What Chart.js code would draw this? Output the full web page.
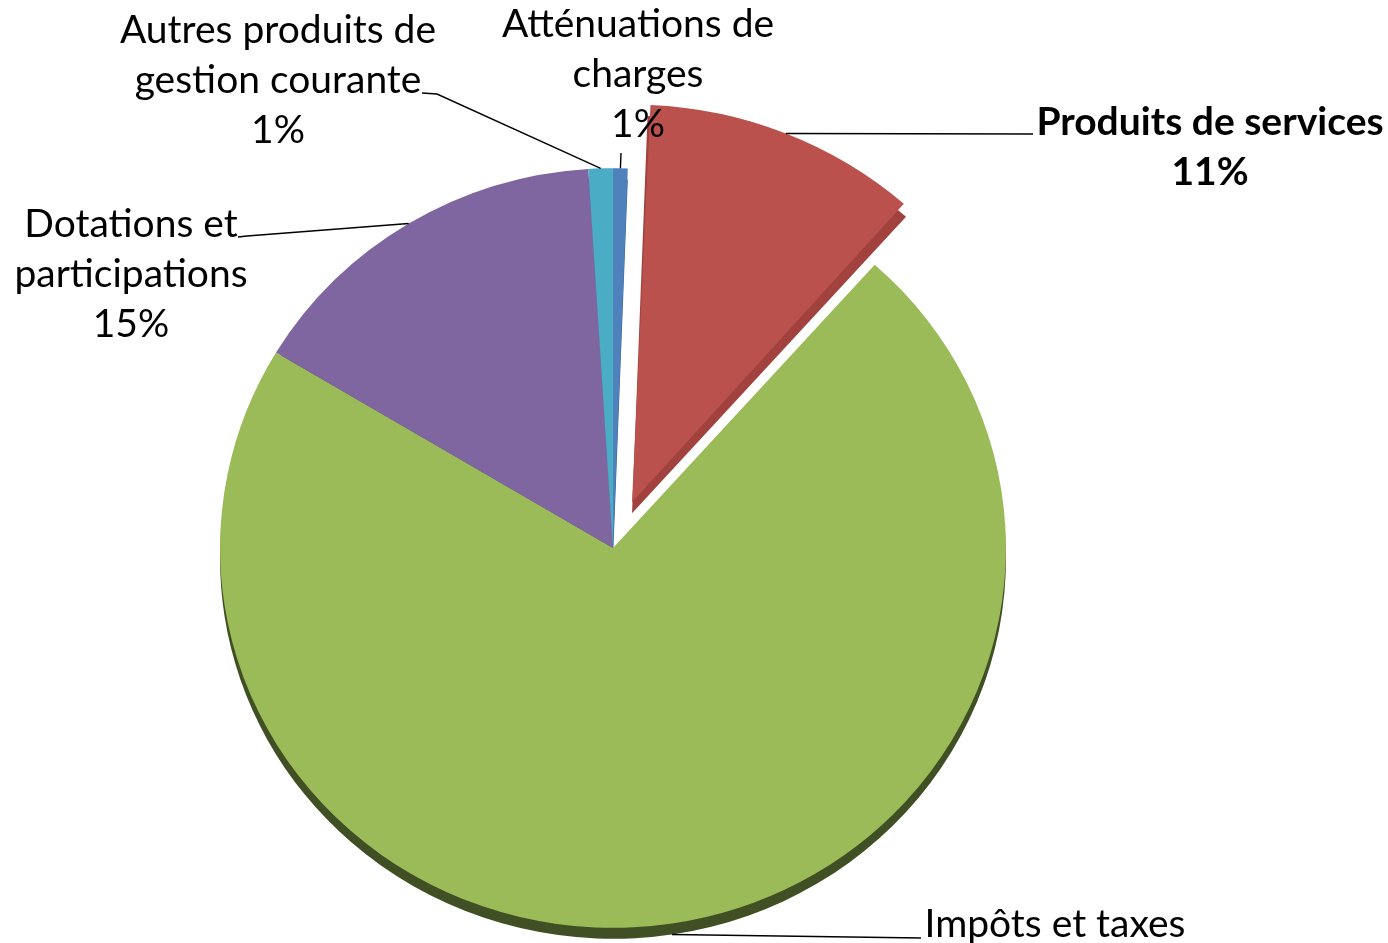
<!DOCTYPE html>
<html>
<head>
<meta charset="utf-8">
<script src="https://cdn.jsdelivr.net/npm/chart.js@4.4.0/dist/chart.umd.min.js"></script>
<style>
  html, body { margin: 0; padding: 0; background: #fff; }
  #wrap { width: 1388px; height: 943px; position: relative; }
</style>
</head>
<body>
<div id="wrap"><canvas id="pie"></canvas></div>
<script>
const categories = ["Atténuations de charges", "Produits de services", "Impôts et taxes", "Dotations et participations", "Autres produits de gestion courante"];
const labelLines = [["Atténuations de", "charges"], ["Produits de services"], ["Impôts et taxes"], ["Dotations et", "participations"], ["Autres produits de", "gestion courante"]];
const shares = [0.6, 11.0, 72.0, 15.4, 1.0];
const sliceColors = ["#4F81BD", "#BB514D", "#9BBB59", "#8066A0", "#4BACC6"];
const sideColors = ["#3A6496", "#A2423E", "#404F24", "#5F4A7A", "#36869C"];
const explode = [0, 200, 0, 0, 0];

const DEPTH = 11;
const LINE = 50;
// pie is drawn slightly flattened, like the tilted original
const SX = 1.018, SY = 0.984;

// label block: baseline of first line, and where its leader line leaves the text
const labelPlaces = [
  { x: 638, y: 37, from: [621, 153] },
  { x: 1210, y: 135, from: [1033, 134], bold: true },
  { x: 1055, y: 937, from: [921, 938], drop: true },
  { x: 131, y: 237, from: [238, 237], elbow: [247, 236] },
  { x: 278, y: 43, from: [422, 93], elbow: [437, 94] },
];

// same geometry the arc element uses when it draws itself (offset / 4 shift)
function arcGeom(el) {
  const p = el.getProps(['x', 'y', 'startAngle', 'endAngle', 'outerRadius', 'circumference']);
  const off = (el.options.offset || 0) / 4;
  const mid = (p.startAngle + p.endAngle) / 2;
  const grow = off * (1 - Math.sin(Math.min(Math.PI, p.circumference)));
  return {
    cx: p.x + Math.cos(mid) * off,
    cy: p.y + Math.sin(mid) * off,
    r: p.outerRadius + grow,
    start: p.startAngle, end: p.endAngle, mid
  };
}

function pieCenter(chart) {
  const a = chart.chartArea;
  return [(a.left + a.right) / 2, (a.top + a.bottom) / 2];
}

const pie3d = {
  id: 'pie3d',
  beforeDatasetsDraw(chart) {
    const ctx = chart.ctx;
    const [cx, cy] = pieCenter(chart);
    ctx.save();
    ctx.translate(cx, cy);
    ctx.scale(SX, SY);
    ctx.translate(-cx, -cy);
    chart.getDatasetMeta(0).data.forEach((el, i) => {
      const g = arcGeom(el);
      ctx.fillStyle = sideColors[i];
      ctx.beginPath();
      ctx.moveTo(g.cx, g.cy + DEPTH / SY);
      ctx.arc(g.cx, g.cy + DEPTH / SY, g.r, g.start, g.end);
      ctx.closePath();
      ctx.fill();
    });
  },
  afterDatasetsDraw(chart) {
    const ctx = chart.ctx;
    ctx.restore();
    const [cx, cy] = pieCenter(chart);
    const total = shares.reduce((a, b) => a + b, 0);
    chart.getDatasetMeta(0).data.forEach((el, i) => {
      const g = arcGeom(el);
      const place = labelPlaces[i];
      const tipX = cx + (g.cx + Math.cos(g.mid) * g.r - cx) * SX;
      const tipY = cy + (g.cy + Math.sin(g.mid) * g.r - cy) * SY + (place.drop ? DEPTH : 0);

      ctx.save();
      ctx.strokeStyle = '#000';
      ctx.lineWidth = 1.4;
      ctx.beginPath();
      ctx.moveTo(place.from[0], place.from[1]);
      if (place.elbow) ctx.lineTo(place.elbow[0], place.elbow[1]);
      ctx.lineTo(tipX, tipY);
      ctx.stroke();

      const lines = labelLines[i].concat(Math.round(shares[i] / total * 100) + '%');
      ctx.font = (place.bold ? 'bold ' : '') + '39px Lato';
      ctx.fillStyle = '#000';
      ctx.textAlign = 'center';
      ctx.textBaseline = 'alphabetic';
      lines.forEach((t, k) => ctx.fillText(t, place.x, place.y + k * LINE));
      ctx.restore();
    });
  }
};

new Chart(document.getElementById('pie'), {
  type: 'pie',
  data: {
    labels: categories,
    datasets: [{
      data: shares,
      backgroundColor: sliceColors,
      borderWidth: 0,
      offset: explode,
      radius: 386,
    }],
  },
  options: {
    responsive: true,
    maintainAspectRatio: false,
    animation: false,
    events: [],
    layout: { padding: { left: 0, right: 162, top: 153, bottom: 0 } },
    plugins: {
      legend: { display: false },
      tooltip: { enabled: false },
    },
  },
  plugins: [pie3d],
});
</script>
</body>
</html>
